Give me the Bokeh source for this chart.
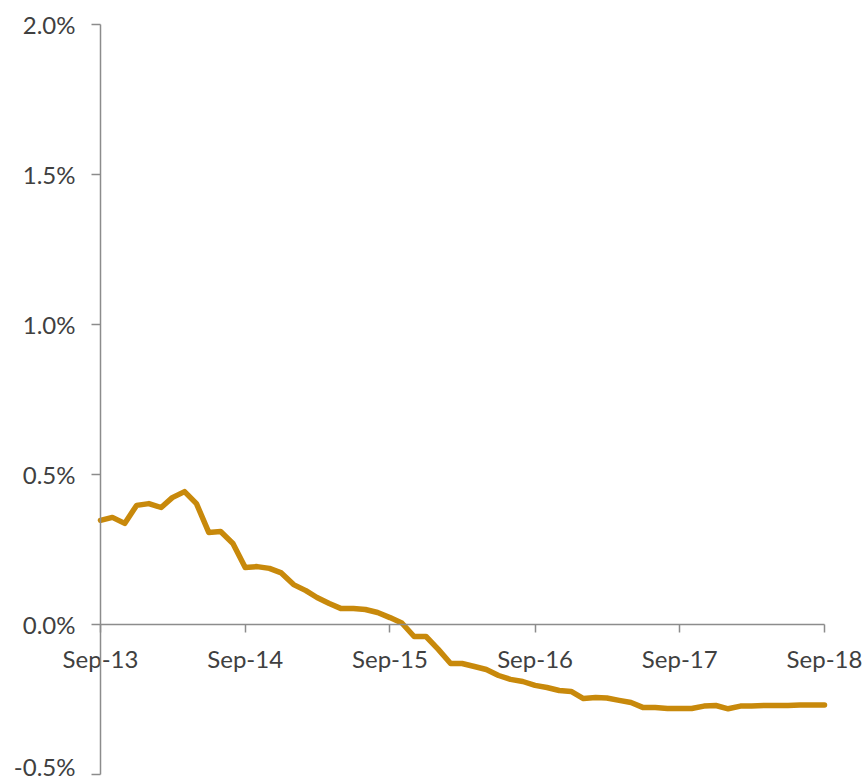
import pandas as pd
from bokeh.plotting import figure
from bokeh.models import (Range1d, LinearAxis, DatetimeAxis, FixedTicker, PrintfTickFormatter,
                          DatetimeTickFormatter, ColumnDataSource)
from bokeh.embed import file_html
from bokeh.resources import INLINE

# ---- data (percent) ----
months = pd.date_range("2013-09-01", "2018-09-01", freq="MS")
rate = [
    0.347, 0.357, 0.337, 0.397, 0.403, 0.390, 0.423, 0.443, 0.403, 0.307, 0.310, 0.270,
    0.190, 0.193, 0.187, 0.172, 0.133, 0.113, 0.090, 0.070, 0.053, 0.053, 0.050, 0.040,
    0.023, 0.005, -0.040, -0.040, -0.083, -0.130, -0.130, -0.140, -0.150, -0.170, -0.183, -0.190,
    -0.203, -0.210, -0.220, -0.223, -0.247, -0.243, -0.245, -0.253, -0.260, -0.277, -0.277, -0.280,
    -0.280, -0.280, -0.272, -0.270, -0.281, -0.272, -0.272, -0.270, -0.270, -0.270, -0.268, -0.268,
    -0.268,
]
x_tick_dates = pd.to_datetime(["2013-09-01", "2014-09-01", "2015-09-01", "2016-09-01", "2017-09-01", "2018-09-01"])
x_tick_labels = ["Sep-13", "Sep-14", "Sep-15", "Sep-16", "Sep-17", "Sep-18"]
y_ticks = [-0.5, 0.0, 0.5, 1.0, 1.5, 2.0]

FONT = "Lato"
TXT = "#404040"
AX = "#8c8c8c"
FS = "24px"

# ---- layout (canvas pixels) ----
W, H = 862, 780
AX_LEFT, AX_RIGHT = 100, 824      # pixel x of first/last date
AX_TOP, AX_BOTTOM = 24, 774       # pixel y of top/bottom y tick

t_ms = [d.value / 1e6 for d in x_tick_dates]
x0, x1 = t_ms[0], t_ms[-1]
sx = (AX_RIGHT - AX_LEFT) / (x1 - x0)
y0, y1 = y_ticks[0], y_ticks[-1]
sy = (AX_BOTTOM - AX_TOP) / (y1 - y0)

p = figure(width=W, height=H, output_backend="svg", toolbar_location=None,
           x_axis_location=None, y_axis_location=None,
           x_range=Range1d(x0 - AX_LEFT / sx, x1 + (W - AX_RIGHT) / sx),
           y_range=Range1d(y0 - (H - AX_BOTTOM) / sy, y1 + AX_TOP / sy),
           min_border_left=0, min_border_right=0, min_border_top=0, min_border_bottom=0)
p.outline_line_color = None
p.xgrid.visible = False
p.ygrid.visible = False
p.background_fill_color = "white"
p.border_fill_color = "white"

yax = LinearAxis(ticker=FixedTicker(ticks=y_ticks),
                 formatter=PrintfTickFormatter(format="%.1f%%"),
                 fixed_location=x0, bounds=(y0, y1))
yax.axis_line_color = AX
yax.axis_line_width = 1.5
yax.major_tick_line_color = AX
yax.major_tick_line_width = 1.5
yax.major_tick_out = 9
yax.major_tick_in = 0
yax.minor_tick_line_color = None
yax.major_label_text_font = FONT
yax.major_label_text_font_size = FS
yax.major_label_text_color = TXT
yax.major_label_standoff = 16
p.add_layout(yax, "left")

xax = DatetimeAxis(ticker=FixedTicker(ticks=t_ms),
                   formatter=DatetimeTickFormatter(years="%b-%y", months="%b-%y", days="%b-%y"),
                   fixed_location=0, bounds=(x0, x1))
xax.major_label_overrides = {t: lab for t, lab in zip(t_ms, x_tick_labels)}
xax.axis_line_color = AX
xax.axis_line_width = 1.5
xax.major_tick_line_color = AX
xax.major_tick_line_width = 1.5
xax.major_tick_out = 8
xax.major_tick_in = 0
xax.minor_tick_line_color = None
xax.major_label_text_font = FONT
xax.major_label_text_font_size = FS
xax.major_label_text_color = TXT
xax.major_label_standoff = 11
p.add_layout(xax, "below")

src = ColumnDataSource(dict(x=months, y=rate))
p.line("x", "y", source=src, line_color="#C8890B", line_width=5.5,
       line_join="round", line_cap="round")

open("out.html", "w").write(file_html(p, INLINE))
